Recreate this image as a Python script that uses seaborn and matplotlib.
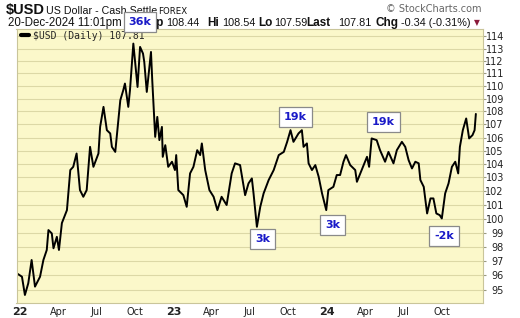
import matplotlib
matplotlib.use("Agg")
import matplotlib.pyplot as plt
import matplotlib.dates as mdates
import matplotlib.ticker as mticker
import seaborn as sns
import pandas as pd

# ---- data ----
dates = ["2021-12-24", "2022-01-05", "2022-01-12", "2022-01-20", "2022-01-28", "2022-02-05",
         "2022-02-17", "2022-02-25", "2022-03-05", "2022-03-09", "2022-03-17", "2022-03-21",
         "2022-03-29", "2022-04-03", "2022-04-10", "2022-04-22", "2022-04-30", "2022-05-07",
         "2022-05-15", "2022-05-23", "2022-05-31", "2022-06-08", "2022-06-16", "2022-06-24",
         "2022-07-06", "2022-07-10", "2022-07-18", "2022-07-26", "2022-08-03", "2022-08-07",
         "2022-08-15", "2022-08-23", "2022-08-27", "2022-09-03", "2022-09-07", "2022-09-15",
         "2022-09-19", "2022-09-27", "2022-10-07", "2022-10-13", "2022-10-20", "2022-10-23",
         "2022-10-29", "2022-11-08", "2022-11-11", "2022-11-18", "2022-11-23", "2022-11-28",
         "2022-12-04", "2022-12-06", "2022-12-12", "2022-12-19", "2022-12-28", "2023-01-04",
         "2023-01-07", "2023-01-12", "2023-01-24", "2023-02-01", "2023-02-09", "2023-02-17",
         "2023-02-26", "2023-03-05", "2023-03-09", "2023-03-17", "2023-03-27", "2023-04-06",
         "2023-04-15", "2023-04-25", "2023-05-07", "2023-05-19", "2023-05-27", "2023-06-08",
         "2023-06-20", "2023-06-28", "2023-07-06", "2023-07-10", "2023-07-18", "2023-07-26",
         "2023-08-03", "2023-08-15", "2023-08-27", "2023-09-08", "2023-09-20", "2023-09-28",
         "2023-10-06", "2023-10-13", "2023-10-25", "2023-11-02", "2023-11-06", "2023-11-14",
         "2023-11-18", "2023-11-26", "2023-12-04", "2023-12-12", "2023-12-20", "2023-12-30",
         "2024-01-04", "2024-01-16", "2024-01-24", "2024-02-01", "2024-02-09", "2024-02-15",
         "2024-02-25", "2024-03-08", "2024-03-12", "2024-03-20", "2024-03-28", "2024-04-05",
         "2024-04-10", "2024-04-16", "2024-04-28", "2024-05-06", "2024-05-18", "2024-05-26",
         "2024-06-07", "2024-06-15", "2024-06-27", "2024-07-05", "2024-07-13", "2024-07-21",
         "2024-07-29", "2024-08-06", "2024-08-10", "2024-08-18", "2024-08-26", "2024-09-03",
         "2024-09-10", "2024-09-17", "2024-09-25", "2024-09-30", "2024-10-08", "2024-10-16",
         "2024-10-24", "2024-11-01", "2024-11-08", "2024-11-12", "2024-11-19", "2024-11-27",
         "2024-12-04", "2024-12-12", "2024-12-17", "2024-12-20"]
values = [96.14, 95.91, 94.66, 95.46, 97.07, 95.23,
          95.91, 97.07, 97.77, 99.18, 98.94, 97.89,
          98.70, 97.77, 99.68, 100.61, 103.55, 103.79,
          104.79, 102.07, 101.58, 102.07, 105.29, 103.79,
          104.79, 106.81, 108.36, 106.56, 106.31, 105.29,
          104.91, 107.58, 108.88, 109.66, 110.19, 108.36,
          109.66, 113.40, 109.92, 113.13, 112.59, 111.92,
          109.53, 112.72, 110.45, 106.05, 107.58, 105.80,
          106.81, 104.54, 105.42, 103.79, 104.17, 103.55,
          104.67, 102.07, 101.70, 100.85, 103.30, 103.79,
          105.04, 104.67, 105.55, 103.55, 102.07, 101.58,
          100.61, 101.58, 100.98, 103.30, 104.05, 103.92,
          101.70, 102.56, 102.93, 101.83, 99.41, 100.85,
          101.83, 102.81, 103.55, 104.67, 104.91, 105.67,
          106.56, 105.67, 106.31, 106.56, 105.29, 105.55,
          104.05, 103.55, 103.92, 103.05, 101.83, 100.61,
          102.07, 102.31, 103.18, 103.18, 104.17, 104.67,
          103.92, 103.55, 102.68, 103.30, 103.92, 104.54,
          103.79, 105.93, 105.80, 105.04, 104.17, 104.91,
          104.05, 105.04, 105.67, 105.29, 104.29, 103.67,
          104.17, 104.05, 102.81, 102.31, 100.37, 101.46,
          101.46, 100.37, 100.25, 100.01, 101.83, 102.56,
          103.79, 104.17, 103.30, 105.29, 106.56, 107.46,
          105.93, 106.18, 106.56, 107.81]

ann_texts = ["36k", "19k", "3k", "3k", "19k", "-2k"]
ann_dates = ["2022-10-13", "2023-10-18", "2023-07-31", "2024-01-14", "2024-05-14", "2024-10-05"]
ann_values = [115.15, 107.56, 98.54, 99.51, 107.17, 98.76]

y_ticks = list(range(95, 115))
x_label_dates = ["2022-01-01", "2022-04-01", "2022-07-01", "2022-10-01",
                 "2023-01-01", "2023-04-01", "2023-07-01", "2023-10-01",
                 "2024-01-01", "2024-04-01", "2024-07-01", "2024-10-01"]
x_labels = ["22", "Apr", "Jul", "Oct", "23", "Apr", "Jul", "Oct", "24", "Apr", "Jul", "Oct"]
x_grid_dates = ["2022-01-01", "2022-07-01", "2023-01-01", "2023-07-01", "2024-01-01", "2024-07-01"]

df = pd.DataFrame({"date": pd.to_datetime(dates), "value": values})

# ---- figure ----
sns.set_theme(style="white")
plt.rcParams["font.family"] = ["DejaVu Sans"]

W, H = 520, 318
fig = plt.figure(figsize=(W / 100, H / 100), dpi=100)
fig.patch.set_facecolor("white")

left, right, top, bottom = 16.5, 483, 29.3, 302.5
ax = fig.add_axes([left / W, 1 - bottom / H, (right - left) / W, (bottom - top) / H])
ax.set_facecolor("#FBF8CA")

sns.lineplot(data=df, x="date", y="value", ax=ax, color="black", lw=1.4,
             label=r"\$USD (Daily) 107.81")

ax.set_yscale("log")
ax.set_ylim(94.15, 114.57)
ax.set_xlim(pd.Timestamp("2021-12-23"), pd.Timestamp("2025-01-06"))

# y axis on the right
ax.yaxis.set_major_locator(mticker.FixedLocator(y_ticks))
ax.yaxis.set_minor_locator(mticker.NullLocator())
ax.yaxis.set_major_formatter(mticker.FixedFormatter([str(t) for t in y_ticks]))
ax.yaxis.tick_right()
ax.tick_params(axis="y", which="major", length=2, width=0.8, color="#9a9a80",
               labelsize=7, pad=13, direction="out")
for lab in ax.get_yticklabels():
    lab.set_horizontalalignment("right")
    lab.set_color("#222222")

# x axis: quarter labels, Jan/Jul gridlines
xl = mdates.date2num(pd.to_datetime(x_label_dates))
xg = mdates.date2num(pd.to_datetime(x_grid_dates))
ax.xaxis.set_major_locator(mticker.FixedLocator(xl))
ax.xaxis.set_major_formatter(mticker.FixedFormatter(x_labels))
ax.xaxis.set_minor_locator(mticker.FixedLocator(xg))
ax.tick_params(axis="x", which="major", length=0, labelsize=7, pad=3, labelcolor="#222222")
ax.tick_params(axis="x", which="minor", length=0)
for lab in ax.get_xticklabels():
    if lab.get_text() in ("22", "23", "24"):
        lab.set_fontweight("bold")
        lab.set_fontsize(8)

ax.grid(False)
ax.grid(axis="y", which="major", color="#DCD8A6", lw=0.8)
ax.grid(axis="x", which="minor", color="#CFCB98", lw=0.8)
ax.set_axisbelow(True)
for s in ax.spines.values():
    s.set_color("#C9C59A")
    s.set_linewidth(0.8)
ax.set_xlabel("")
ax.set_ylabel("")

leg = ax.legend(loc="upper left", frameon=False, handlelength=0.8, handletextpad=0.4,
                borderaxespad=0.1, borderpad=0.05, bbox_to_anchor=(0.007, 1.0),
                prop={"family": "DejaVu Sans Mono", "size": 7})
for h in leg.legend_handles:
    h.set_linewidth(3)

# annotation boxes
for t, d, v in zip(ann_texts, ann_dates, ann_values):
    ax.annotate(t, xy=(pd.Timestamp(d), v), ha="center", va="center",
                fontsize=8, fontweight="bold", color="#1a1ac8",
                bbox=dict(boxstyle="square,pad=0.45", fc="white", ec="#8a8a8a", lw=0.9),
                annotation_clip=False, zorder=10)

# header texts
SANS = "Liberation Sans"
def ftxt(x, y, s, **kw):
    ax.text(x / W, 1 - y / H, s, transform=fig.transFigure, va="baseline",
            ha=kw.pop("ha", "left"), clip_on=False, zorder=5,
            family=kw.pop("family", SANS), **kw)

ftxt(6, 14, r"\$USD", fontsize=10.5, fontweight="bold", color="#111111")
ftxt(46, 14, "US Dollar - Cash Settle", fontsize=7.7, color="#111111")
ftxt(158, 14, "FOREX", fontsize=6.2, family="DejaVu Sans", color="#111111")
ftxt(482, 11.5, "© StockCharts.com", fontsize=7, family="DejaVu Sans", color="#666666", ha="right")

L2 = 25.8
ftxt(122, L2, "20-Dec-2024 11:01pm", fontsize=8.3, color="#111111", ha="right")
ftxt(147, L2, "Op", fontsize=8.5, fontweight="bold", color="#111111")
ftxt(166, L2, "108.44", fontsize=7.8, color="#111111")
ftxt(207, L2, "Hi", fontsize=8.5, fontweight="bold", color="#111111")
ftxt(222, L2, "108.54", fontsize=7.8, color="#111111")
ftxt(258, L2, "Lo", fontsize=8.5, fontweight="bold", color="#111111")
ftxt(274, L2, "107.59", fontsize=7.8, color="#111111")
ftxt(306, L2, "Last", fontsize=8.5, fontweight="bold", color="#111111")
ftxt(338, L2, "107.81", fontsize=7.8, color="#111111")
ftxt(376, L2, "Chg", fontsize=8.5, fontweight="bold", color="#111111")
ftxt(401, L2, "-0.34 (-0.31%)", fontsize=7.8, color="#111111")
ftxt(474, L2 - 1, "▼", fontsize=5.5, family="DejaVu Sans", color="#8B1A3A")

fig.savefig("out.png", dpi=100, facecolor="white")
